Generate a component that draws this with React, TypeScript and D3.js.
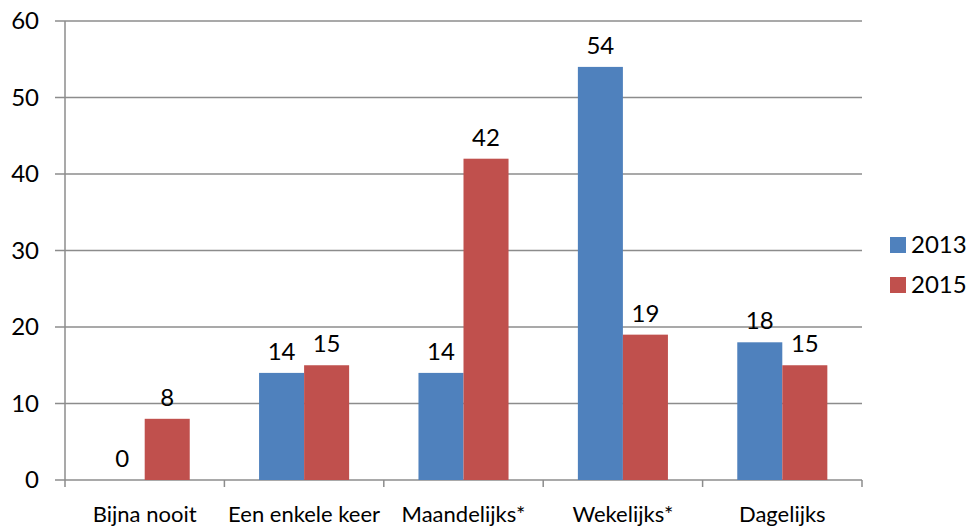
import React from "react";
import * as d3 from "d3";

const categories = ["Bijna nooit", "Een enkele keer", "Maandelijks*", "Wekelijks*", "Dagelijks"];
const seriesNames = ["2013", "2015"];
const values2013 = [0, 14, 14, 54, 18];
const values2015 = [8, 15, 42, 19, 15];
const yTicks = [0, 10, 20, 30, 40, 50, 60];
const colors = ["#4F81BD", "#C0504D"];

const W = 970;
const H = 527;
const left = 65;
const right = 862;
const top = 21;
const bottom = 480;
const font = "Lato, 'Open Sans', sans-serif";

export default function App() {
  const x = d3.scaleBand<string>().domain(categories).range([left, right]).paddingInner(0).paddingOuter(0);
  const bw = x.bandwidth();
  const inner = d3.scaleBand<string>().domain(seriesNames).range([bw * 0.2175, bw * 0.7825]).padding(0);
  const y = d3.scaleLinear().domain([0, 60]).range([bottom, top]);
  const series = [values2013, values2015];

  return (
    <svg width={W} height={H} style={{ position: "absolute", left: 0, top: 0, background: "#fff" }} fontFamily={font}>
      {yTicks.map((t) => (
        <g key={t}>
          <line x1={left - 10} x2={right} y1={y(t)} y2={y(t)} stroke="#8c8c8c" strokeWidth={1.5} />
          <text x={39} y={y(t)} dy="0.35em" textAnchor="end" fontSize={24} fill="#000">{t}</text>
        </g>
      ))}
      <line x1={left} x2={left} y1={top} y2={bottom + 7} stroke="#8c8c8c" strokeWidth={1.5} />
      {categories.map((c, i) => (
        <line key={"tk" + i} x1={x(c)! + bw} x2={x(c)! + bw} y1={bottom} y2={bottom + 7} stroke="#8c8c8c" strokeWidth={1.5} />
      ))}
      {categories.map((c) => (
        <text key={"cl" + c} x={x(c)! + bw / 2} y={bottom + 42} textAnchor="middle" fontSize={22} fill="#000">{c}</text>
      ))}
      {series.map((vals, si) =>
        categories.map((c, ci) => {
          const bx = x(c)! + inner(seriesNames[si])!;
          const v = vals[ci];
          return (
            <g key={si + "-" + ci}>
              <rect x={bx} y={y(v)} width={inner.bandwidth()} height={bottom - y(v)} fill={colors[si]} />
              <text x={bx + inner.bandwidth() / 2} y={y(v) - 13} textAnchor="middle" fontSize={24} fill="#000">{v}</text>
            </g>
          );
        })
      )}
      {seriesNames.map((s, i) => (
        <g key={"lg" + s}>
          <rect x={890} y={237 + i * 40} width={16} height={16} fill={colors[i]} />
          <text x={911} y={253 + i * 40} fontSize={24} fill="#000">{s}</text>
        </g>
      ))}
    </svg>
  );
}
